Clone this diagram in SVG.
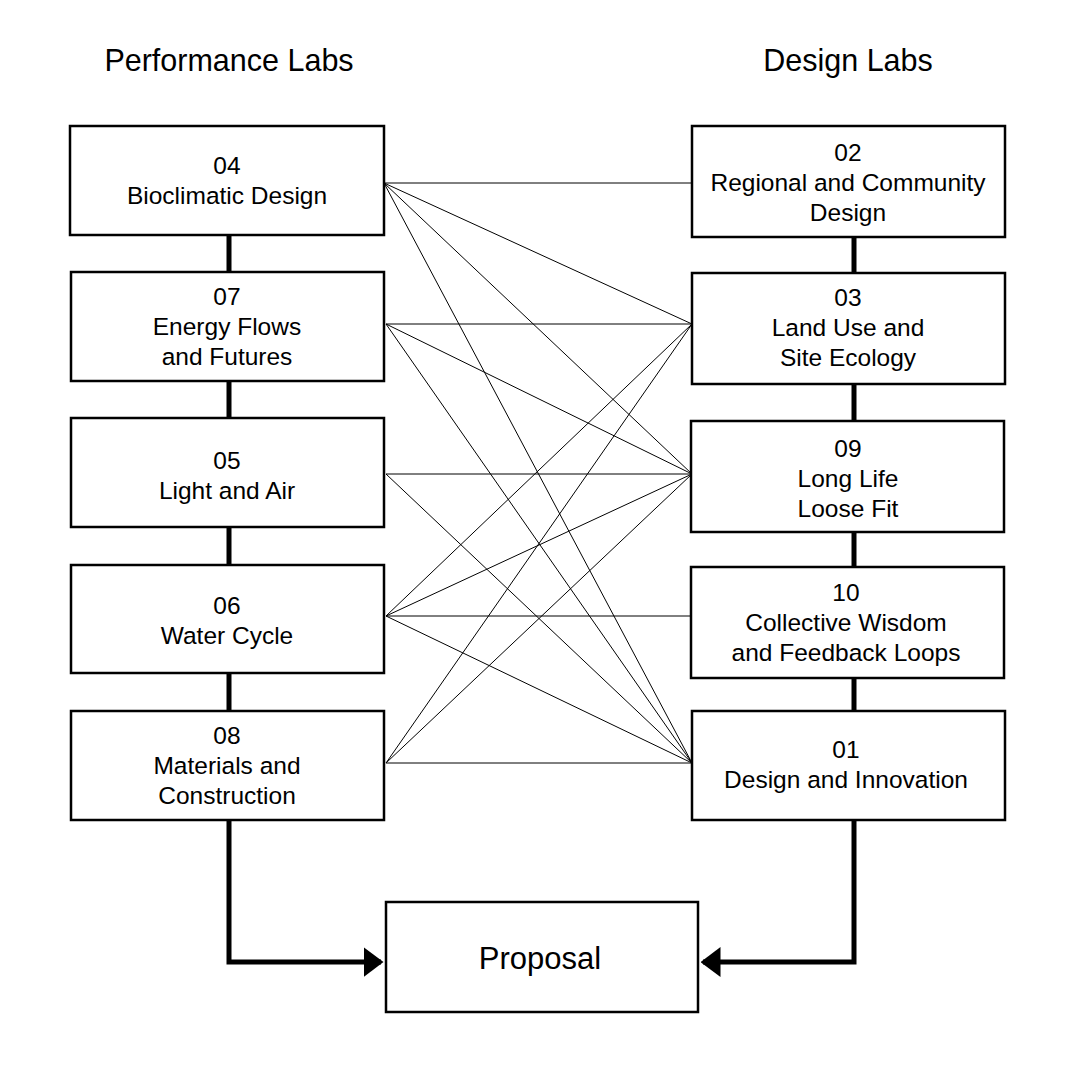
<svg xmlns="http://www.w3.org/2000/svg" width="1072" height="1072" viewBox="0 0 1072 1072">
<style>
.b rect{fill:#fff;stroke:#000;stroke-width:2.5}
text{font-family:"Liberation Sans",Arial,sans-serif;font-size:24.5px;text-anchor:middle;fill:#000}
.t{font-size:30.5px}
.thin line{stroke:#000;stroke-width:1}
.thick{stroke:#000;stroke-width:5;fill:none}
</style>
<defs><marker id="a" markerWidth="4" markerHeight="6" refX="3.5" refY="3" orient="auto" markerUnits="strokeWidth"><path d="M0,0L4,3L0,6z" fill="#000"/></marker></defs>
<rect width="1072" height="1072" fill="#fff"/>
<text class="t" x="229" y="71">Performance Labs</text>
<text class="t" x="848" y="71">Design Labs</text>
<g id="connectors">
<path class="thick" d="M229 235V272M229 381V418M229 527V565M229 673V711M854 237V273M854 384V421M854 532V567M854 678V711"/>
<path class="thick" d="M229 820V962H381" marker-end="url(#a)"/>
<path class="thick" d="M854 820V962H703" marker-end="url(#a)"/>
<g class="thin">
<line x1="384" y1="183" x2="692" y2="183"/><line x1="384" y1="183" x2="692" y2="324"/><line x1="384" y1="183" x2="692" y2="474"/><line x1="384" y1="183" x2="692" y2="763"/>
<line x1="386" y1="324" x2="692" y2="324"/><line x1="386" y1="324" x2="692" y2="474"/><line x1="386" y1="324" x2="692" y2="763"/>
<line x1="386" y1="474" x2="692" y2="474"/><line x1="386" y1="474" x2="692" y2="763"/>
<line x1="386" y1="616" x2="692" y2="324"/><line x1="386" y1="616" x2="692" y2="474"/><line x1="386" y1="616" x2="692" y2="616"/><line x1="386" y1="616" x2="692" y2="763"/>
<line x1="386" y1="763" x2="692" y2="324"/><line x1="386" y1="763" x2="692" y2="474"/><line x1="386" y1="763" x2="692" y2="763"/>
</g>
</g>
<g id="n04" class="b"><rect x="70" y="126" width="314" height="109"/><text x="227" y="174">04</text><text x="227" y="204">Bioclimatic Design</text></g>
<g id="n07" class="b"><rect x="71" y="272" width="313" height="109"/><text x="227" y="305">07</text><text x="227" y="335">Energy Flows</text><text x="227" y="365">and Futures</text></g>
<g id="n05" class="b"><rect x="71" y="418" width="313" height="109"/><text x="227" y="469">05</text><text x="227" y="499">Light and Air</text></g>
<g id="n06" class="b"><rect x="71" y="565" width="313" height="108"/><text x="227" y="614">06</text><text x="227" y="644">Water Cycle</text></g>
<g id="n08" class="b"><rect x="71" y="711" width="313" height="109"/><text x="227" y="744">08</text><text x="227" y="774">Materials and</text><text x="227" y="804">Construction</text></g>
<g id="n02" class="b"><rect x="692" y="126" width="313" height="111"/><text x="848" y="161">02</text><text x="848" y="191">Regional and Community</text><text x="848" y="221">Design</text></g>
<g id="n03" class="b"><rect x="692" y="273" width="313" height="111"/><text x="848" y="306">03</text><text x="848" y="336">Land Use and</text><text x="848" y="366">Site Ecology</text></g>
<g id="n09" class="b"><rect x="691" y="421" width="313" height="111"/><text x="848" y="457">09</text><text x="848" y="487">Long Life</text><text x="848" y="517">Loose Fit</text></g>
<g id="n10" class="b"><rect x="691" y="567" width="313" height="111"/><text x="846" y="601">10</text><text x="846" y="631">Collective Wisdom</text><text x="846" y="661">and Feedback Loops</text></g>
<g id="n01" class="b"><rect x="692" y="711" width="313" height="109"/><text x="846" y="758">01</text><text x="846" y="788">Design and Innovation</text></g>
<g id="proposal" class="b"><rect x="386" y="902" width="312" height="110"/><text x="540" y="969" style="font-size:31px">Proposal</text></g>
</svg>
